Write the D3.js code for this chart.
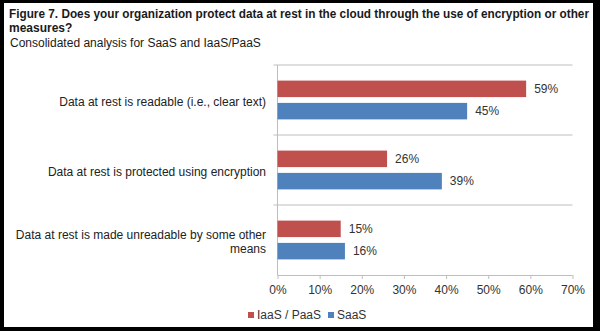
<!DOCTYPE html>
<html>
<head>
<meta charset="utf-8">
<script src="https://cdn.jsdelivr.net/npm/d3@7"></script>
<style>
  html, body { margin: 0; padding: 0; background: #000; }
  svg { display: block; }
  text { font-family: Arial, "Liberation Sans", sans-serif; }
</style>
</head>
<body>
<svg id="chart" width="600" height="331"></svg>
<script>
// Survey categories (top to bottom) and series values in percent
const categories = [
  ["Data at rest is readable (i.e., clear text)"],
  ["Data at rest is protected using encryption"],
  ["Data at rest is made unreadable by some other", "means"]
];
const seriesNames = ["IaaS / PaaS", "SaaS"];
const iaasPaas = [59, 26, 15];
const saas = [45, 39, 16];
const xTicks = [0, 10, 20, 30, 40, 50, 60, 70];
const colors = ["#C0504D", "#4F81BD"];

const titleLines = [
  "Figure 7. Does your organization protect data at rest in the cloud through the use of encryption or other",
  "measures?"
];
const subtitle = "Consolidated analysis for SaaS and IaaS/PaaS";

const svg = d3.select("#chart");

// white page inside the dark frame
svg.append("rect")
  .attr("x", 4).attr("y", 3)
  .attr("width", 589).attr("height", 324)
  .attr("fill", "#fff");

// title block
const title = svg.append("g");
titleLines.forEach((t, i) => {
  const el = title.append("text")
    .attr("x", 9).attr("y", 18 + i * 14)
    .attr("font-size", 12).attr("font-weight", "bold")
    .attr("fill", "#1a1a1a")
    .text(t);
  // keep the long first line inside the frame
  if (i === 0) {
    const w = el.node().getComputedTextLength();
    if (w > 580) el.attr("textLength", 580).attr("lengthAdjust", "spacingAndGlyphs");
  }
});
title.append("text")
  .attr("x", 10).attr("y", 47)
  .attr("font-size", 12)
  .attr("fill", "#1a1a1a")
  .text(subtitle);

// plot area
const plot = { left: 277.5, right: 572.5, top: 65, bottom: 275 };

const x = d3.scaleLinear()
  .domain([0, 70])
  .range([plot.left, plot.right]);

const y = d3.scaleBand()
  .domain(d3.range(categories.length))
  .range([plot.top, plot.bottom]);

const inner = d3.scaleBand()
  .domain([0, 1])
  .range([0, y.bandwidth()])
  .paddingInner(0.26)
  .paddingOuter(0.7);

const grid = "#BEBEBE";

// horizontal separators between categories
svg.append("g")
  .selectAll("line")
  .data(d3.range(categories.length))
  .join("line")
  .attr("x1", plot.left - 4).attr("x2", plot.right)
  .attr("y1", d => y(d)).attr("y2", d => y(d))
  .attr("stroke", grid).attr("stroke-width", 1);

// vertical category axis
svg.append("line")
  .attr("x1", plot.left).attr("x2", plot.left)
  .attr("y1", plot.top).attr("y2", plot.bottom)
  .attr("stroke", grid);

// value axis
const xAxis = d3.axisBottom(x)
  .tickValues(xTicks)
  .tickFormat(d => d + "%")
  .tickSize(4)
  .tickPadding(6);

const axisG = svg.append("g")
  .attr("transform", `translate(0,${plot.bottom})`)
  .call(xAxis);
axisG.select(".domain").attr("stroke", grid).attr("d", `M${plot.left},0.5H${plot.right}`);
axisG.selectAll(".tick line").attr("stroke", grid);
axisG.selectAll(".tick text")
  .attr("font-size", 12)
  .attr("fill", "#333")
  .attr("font-family", "Arial, 'Liberation Sans', sans-serif");

// bars
const rows = categories.map((c, i) => ({ i, values: [iaasPaas[i], saas[i]] }));

const groups = svg.append("g")
  .selectAll("g")
  .data(rows)
  .join("g")
  .attr("transform", d => `translate(0,${y(d.i)})`);

groups.selectAll("rect")
  .data(d => d.values.map((v, s) => ({ v, s })))
  .join("rect")
  .attr("x", x(0))
  .attr("y", d => inner(d.s))
  .attr("width", d => x(d.v) - x(0))
  .attr("height", inner.bandwidth())
  .attr("fill", d => colors[d.s]);

groups.selectAll("text.val")
  .data(d => d.values.map((v, s) => ({ v, s })))
  .join("text")
  .attr("class", "val")
  .attr("x", d => x(d.v) + 8)
  .attr("y", d => inner(d.s) + inner.bandwidth() / 2)
  .attr("dy", "0.35em")
  .attr("font-size", 12)
  .attr("fill", "#333")
  .text(d => d.v + "%");

// category labels
const labels = svg.append("g")
  .selectAll("text")
  .data(rows)
  .join("text")
  .attr("text-anchor", "end")
  .attr("font-size", 12)
  .attr("fill", "#222")
  .attr("transform", d => `translate(266,${y(d.i) + y.bandwidth() / 2 + 2})`);

labels.each(function (d) {
  const lines = categories[d.i];
  const t = d3.select(this);
  const lh = 14;
  lines.forEach((line, k) => {
    t.append("tspan")
      .attr("x", 0)
      .attr("y", (k - (lines.length - 1) / 2) * lh)
      .attr("dy", "0.35em")
      .text(line);
  });
});

// legend
const legend = svg.append("g").attr("transform", "translate(248,315)");
const legendX = [0, 80];
seriesNames.forEach((name, i) => {
  const g = legend.append("g").attr("transform", `translate(${legendX[i]},0)`);
  g.append("rect")
    .attr("x", 0).attr("y", -3)
    .attr("width", 6).attr("height", 6)
    .attr("fill", colors[i]);
  g.append("text")
    .attr("x", 9).attr("y", 0).attr("dy", "0.35em")
    .attr("font-size", 12)
    .attr("fill", "#333")
    .text(name);
});
</script>
</body>
</html>
